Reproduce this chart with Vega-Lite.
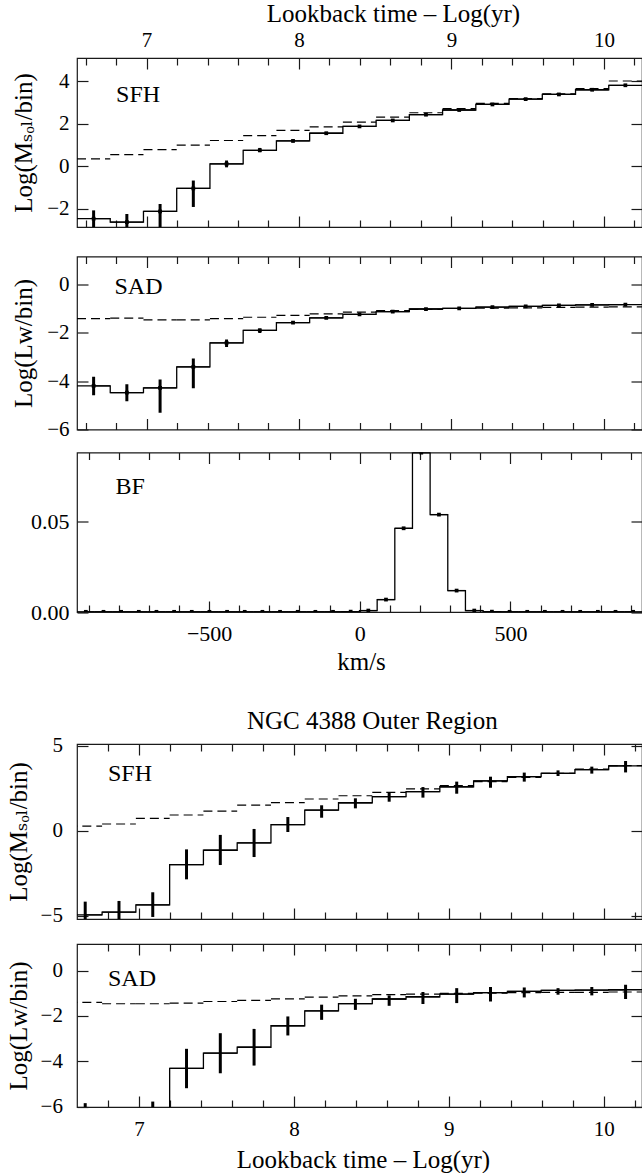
{
"$schema": "https://vega.github.io/schema/vega-lite/v6.json",
"padding": {"top": 0, "left": 5, "right": 0, "bottom": 0},
"config": {
  "font": "Liberation Serif, Times New Roman, DejaVu Serif, serif",
  "view": {"stroke": "#1a1a1a", "strokeWidth": 1.2},
  "axis": {"domain": false, "grid": false, "labelFont": "Liberation Serif, Times New Roman, DejaVu Serif, serif", "labelFontSize": 21, "labelColor": "#000", "titleFont": "Liberation Serif, Times New Roman, DejaVu Serif, serif", "titleFontSize": 25, "titleFontWeight": "normal", "titleColor": "#000", "tickColor": "#1a1a1a", "tickWidth": 1.2, "labelOverlap": false, "labelFlush": false, "labelBound": false, "labelPadding": 19},
  "title": {"font": "Liberation Serif, Times New Roman, DejaVu Serif, serif", "fontSize": 25, "fontWeight": "normal", "color": "#000"},
  "text": {"font": "Liberation Serif, Times New Roman, DejaVu Serif, serif"}
},
"datasets": {
  "sfh1": [
    {"t": 6.653, "lo": 6.544, "hi": 6.762, "y": -2.46, "e1": -2.07, "e2": -3.2, "d": 0.35},
    {"t": 6.871, "lo": 6.762, "hi": 6.98, "y": -2.62, "e1": -2.24, "e2": -3.2, "d": 0.55},
    {"t": 7.089, "lo": 6.98, "hi": 7.198, "y": -2.12, "e1": -1.77, "e2": -3.0, "d": 0.78},
    {"t": 7.307, "lo": 7.198, "hi": 7.416, "y": -1.04, "e1": -0.67, "e2": -1.91, "d": 0.99},
    {"t": 7.525, "lo": 7.416, "hi": 7.634, "y": 0.11, "e1": 0.27, "e2": -0.05, "d": 1.21},
    {"t": 7.743, "lo": 7.634, "hi": 7.852, "y": 0.75, "e1": 0.86, "e2": 0.66, "d": 1.44},
    {"t": 7.961, "lo": 7.852, "hi": 8.07, "y": 1.19, "e1": 1.26, "e2": 1.12, "d": 1.68},
    {"t": 8.179, "lo": 8.07, "hi": 8.288, "y": 1.55, "e1": 1.61, "e2": 1.49, "d": 1.85},
    {"t": 8.397, "lo": 8.288, "hi": 8.506, "y": 1.87, "e1": 1.92, "e2": 1.82, "d": 2.07},
    {"t": 8.615, "lo": 8.506, "hi": 8.724, "y": 2.15, "e1": 2.2, "e2": 2.1, "d": 2.31},
    {"t": 8.833, "lo": 8.724, "hi": 8.942, "y": 2.42, "e1": 2.47, "e2": 2.37, "d": 2.51},
    {"t": 9.051, "lo": 8.942, "hi": 9.16, "y": 2.64, "e1": 2.69, "e2": 2.59, "d": 2.7},
    {"t": 9.269, "lo": 9.16, "hi": 9.378, "y": 2.9, "e1": 2.95, "e2": 2.85, "d": 2.95},
    {"t": 9.487, "lo": 9.378, "hi": 9.596, "y": 3.15, "e1": 3.2, "e2": 3.1, "d": 3.18},
    {"t": 9.705, "lo": 9.596, "hi": 9.814, "y": 3.37, "e1": 3.42, "e2": 3.32, "d": 3.4},
    {"t": 9.923, "lo": 9.814, "hi": 10.032, "y": 3.59, "e1": 3.64, "e2": 3.54, "d": 3.64},
    {"t": 10.141, "lo": 10.032, "hi": 10.25, "y": 3.8, "e1": 3.85, "e2": 3.75, "d": 4.0}
  ],
  "sad1": [
    {"t": 6.653, "lo": 6.544, "hi": 6.762, "y": -4.2, "e1": -3.82, "e2": -4.58, "d": -1.42},
    {"t": 6.871, "lo": 6.762, "hi": 6.98, "y": -4.48, "e1": -4.13, "e2": -4.83, "d": -1.4},
    {"t": 7.089, "lo": 6.98, "hi": 7.198, "y": -4.28, "e1": -3.93, "e2": -5.31, "d": -1.47},
    {"t": 7.307, "lo": 7.198, "hi": 7.416, "y": -3.41, "e1": -3.07, "e2": -4.29, "d": -1.47},
    {"t": 7.525, "lo": 7.416, "hi": 7.634, "y": -2.42, "e1": -2.28, "e2": -2.59, "d": -1.42},
    {"t": 7.743, "lo": 7.634, "hi": 7.852, "y": -1.9, "e1": -1.83, "e2": -2.01, "d": -1.36},
    {"t": 7.961, "lo": 7.852, "hi": 8.07, "y": -1.58, "e1": -1.53, "e2": -1.63, "d": -1.28},
    {"t": 8.179, "lo": 8.07, "hi": 8.288, "y": -1.39, "e1": -1.35, "e2": -1.43, "d": -1.22},
    {"t": 8.397, "lo": 8.288, "hi": 8.506, "y": -1.24, "e1": -1.2, "e2": -1.28, "d": -1.15},
    {"t": 8.615, "lo": 8.506, "hi": 8.724, "y": -1.13, "e1": -1.09, "e2": -1.17, "d": -1.09},
    {"t": 8.833, "lo": 8.724, "hi": 8.942, "y": -1.02, "e1": -0.98, "e2": -1.06, "d": -1.04},
    {"t": 9.051, "lo": 8.942, "hi": 9.16, "y": -0.99, "e1": -0.95, "e2": -1.03, "d": -1.0},
    {"t": 9.269, "lo": 9.16, "hi": 9.378, "y": -0.94, "e1": -0.9, "e2": -0.98, "d": -0.98},
    {"t": 9.487, "lo": 9.378, "hi": 9.596, "y": -0.91, "e1": -0.87, "e2": -0.95, "d": -0.97},
    {"t": 9.705, "lo": 9.596, "hi": 9.814, "y": -0.87, "e1": -0.83, "e2": -0.91, "d": -0.95},
    {"t": 9.923, "lo": 9.814, "hi": 10.032, "y": -0.85, "e1": -0.81, "e2": -0.89, "d": -0.94},
    {"t": 10.141, "lo": 10.032, "hi": 10.25, "y": -0.84, "e1": -0.8, "e2": -0.88, "d": -0.93}
  ],
  "bf": [
    {"v": -909.1, "lo": -938.4, "hi": -879.8, "f": 0.0001},
    {"v": -850.5, "lo": -879.8, "hi": -821.2, "f": 0.0001},
    {"v": -791.9, "lo": -821.2, "hi": -762.6, "f": 0.0001},
    {"v": -733.3, "lo": -762.6, "hi": -704.0, "f": 0.0001},
    {"v": -674.7, "lo": -704.0, "hi": -645.4, "f": 0.0001},
    {"v": -616.1, "lo": -645.4, "hi": -586.8, "f": 0.0001},
    {"v": -557.5, "lo": -586.8, "hi": -528.2, "f": 0.0001},
    {"v": -498.9, "lo": -528.2, "hi": -469.6, "f": 0.0001},
    {"v": -440.3, "lo": -469.6, "hi": -411.0, "f": 0.0001},
    {"v": -381.7, "lo": -411.0, "hi": -352.4, "f": 0.0001},
    {"v": -323.1, "lo": -352.4, "hi": -293.8, "f": 0.0001},
    {"v": -264.5, "lo": -293.8, "hi": -235.2, "f": 0.0001},
    {"v": -205.9, "lo": -235.2, "hi": -176.6, "f": 0.0001},
    {"v": -147.3, "lo": -176.6, "hi": -118.0, "f": 0.0001},
    {"v": -88.7, "lo": -118.0, "hi": -59.4, "f": 0.0001},
    {"v": -30.1, "lo": -59.4, "hi": -0.8, "f": 0.0002},
    {"v": 28.5, "lo": -0.8, "hi": 57.8, "f": 0.0008},
    {"v": 87.1, "lo": 57.8, "hi": 116.4, "f": 0.0069},
    {"v": 145.7, "lo": 116.4, "hi": 175.0, "f": 0.0465},
    {"v": 204.3, "lo": 175.0, "hi": 233.6, "f": 0.0885},
    {"v": 262.9, "lo": 233.6, "hi": 292.2, "f": 0.0541},
    {"v": 321.5, "lo": 292.2, "hi": 350.8, "f": 0.0119},
    {"v": 380.1, "lo": 350.8, "hi": 409.4, "f": 0.0008},
    {"v": 438.7, "lo": 409.4, "hi": 468.0, "f": 0.0002},
    {"v": 497.3, "lo": 468.0, "hi": 526.6, "f": 0.0001},
    {"v": 555.9, "lo": 526.6, "hi": 585.2, "f": 0.0001},
    {"v": 614.5, "lo": 585.2, "hi": 643.8, "f": 0.0001},
    {"v": 673.1, "lo": 643.8, "hi": 702.4, "f": 0.0001},
    {"v": 731.7, "lo": 702.4, "hi": 761.0, "f": 0.0001},
    {"v": 790.3, "lo": 761.0, "hi": 819.6, "f": 0.0001},
    {"v": 848.9, "lo": 819.6, "hi": 878.2, "f": 0.0001},
    {"v": 907.5, "lo": 878.2, "hi": 936.8, "f": 0.0001}
  ],
  "sfh2": [
    {"t": 6.653, "lo": 6.544, "hi": 6.762, "y": -4.95, "e1": -4.17, "e2": -5.7, "d": 0.27},
    {"t": 6.871, "lo": 6.762, "hi": 6.98, "y": -4.79, "e1": -4.13, "e2": -5.6, "d": 0.39},
    {"t": 7.089, "lo": 6.98, "hi": 7.198, "y": -4.36, "e1": -3.62, "e2": -5.07, "d": 0.72},
    {"t": 7.307, "lo": 7.198, "hi": 7.416, "y": -2.0, "e1": -1.1, "e2": -2.86, "d": 0.92},
    {"t": 7.525, "lo": 7.416, "hi": 7.634, "y": -1.15, "e1": -0.25, "e2": -2.02, "d": 1.15},
    {"t": 7.743, "lo": 7.634, "hi": 7.852, "y": -0.72, "e1": 0.1, "e2": -1.55, "d": 1.5},
    {"t": 7.961, "lo": 7.852, "hi": 8.07, "y": 0.35, "e1": 0.8, "e2": -0.08, "d": 1.65},
    {"t": 8.179, "lo": 8.07, "hi": 8.288, "y": 1.21, "e1": 1.49, "e2": 0.76, "d": 1.86},
    {"t": 8.397, "lo": 8.288, "hi": 8.506, "y": 1.64, "e1": 1.9, "e2": 1.31, "d": 2.05},
    {"t": 8.615, "lo": 8.506, "hi": 8.724, "y": 2.0, "e1": 2.25, "e2": 1.7, "d": 2.25},
    {"t": 8.833, "lo": 8.724, "hi": 8.942, "y": 2.29, "e1": 2.56, "e2": 1.94, "d": 2.45},
    {"t": 9.051, "lo": 8.942, "hi": 9.16, "y": 2.58, "e1": 2.88, "e2": 2.17, "d": 2.65},
    {"t": 9.269, "lo": 9.16, "hi": 9.378, "y": 2.92, "e1": 3.17, "e2": 2.52, "d": 2.88},
    {"t": 9.487, "lo": 9.378, "hi": 9.596, "y": 3.17, "e1": 3.41, "e2": 2.88, "d": 3.13},
    {"t": 9.705, "lo": 9.596, "hi": 9.814, "y": 3.37, "e1": 3.54, "e2": 3.21, "d": 3.37},
    {"t": 9.923, "lo": 9.814, "hi": 10.032, "y": 3.58, "e1": 3.76, "e2": 3.35, "d": 3.62},
    {"t": 10.141, "lo": 10.032, "hi": 10.25, "y": 3.8, "e1": 4.09, "e2": 3.42, "d": 3.82}
  ],
  "sad2": [
    {"t": 6.653, "lo": 6.544, "hi": 6.762, "y": -6.5, "e1": -5.85, "e2": -7.2, "d": -1.4},
    {"t": 6.871, "lo": 6.762, "hi": 6.98, "y": -6.6, "e1": -6.05, "e2": -7.2, "d": -1.46},
    {"t": 7.089, "lo": 6.98, "hi": 7.198, "y": -6.4, "e1": -5.78, "e2": -7.1, "d": -1.46},
    {"t": 7.307, "lo": 7.198, "hi": 7.416, "y": -4.31, "e1": -3.45, "e2": -5.19, "d": -1.43},
    {"t": 7.525, "lo": 7.416, "hi": 7.634, "y": -3.64, "e1": -2.76, "e2": -4.53, "d": -1.36},
    {"t": 7.743, "lo": 7.634, "hi": 7.852, "y": -3.38, "e1": -2.57, "e2": -4.19, "d": -1.31},
    {"t": 7.961, "lo": 7.852, "hi": 8.07, "y": -2.43, "e1": -2.02, "e2": -2.86, "d": -1.24},
    {"t": 8.179, "lo": 8.07, "hi": 8.288, "y": -1.77, "e1": -1.5, "e2": -2.17, "d": -1.17},
    {"t": 8.397, "lo": 8.288, "hi": 8.506, "y": -1.45, "e1": -1.24, "e2": -1.73, "d": -1.11},
    {"t": 8.615, "lo": 8.506, "hi": 8.724, "y": -1.25, "e1": -1.09, "e2": -1.55, "d": -1.06},
    {"t": 8.833, "lo": 8.724, "hi": 8.942, "y": -1.15, "e1": -0.94, "e2": -1.47, "d": -1.03},
    {"t": 9.051, "lo": 8.942, "hi": 9.16, "y": -1.03, "e1": -0.77, "e2": -1.43, "d": -1.0},
    {"t": 9.269, "lo": 9.16, "hi": 9.378, "y": -0.97, "e1": -0.72, "e2": -1.36, "d": -0.99},
    {"t": 9.487, "lo": 9.378, "hi": 9.596, "y": -0.91, "e1": -0.74, "e2": -1.18, "d": -0.97},
    {"t": 9.705, "lo": 9.596, "hi": 9.814, "y": -0.87, "e1": -0.77, "e2": -1.06, "d": -0.96},
    {"t": 9.923, "lo": 9.814, "hi": 10.032, "y": -0.86, "e1": -0.72, "e2": -1.09, "d": -0.96},
    {"t": 10.141, "lo": 10.032, "hi": 10.25, "y": -0.84, "e1": -0.62, "e2": -1.25, "d": -0.94}
  ]
},
"spacing": 32,
"vconcat": [
 {
  "spacing": 9.5,
  "vconcat": [
   {
    "spacing": 25.5,
    "vconcat": [
     {
      "width": 565, "height": 169,
      "data": {"name": "sfh1"},
      "resolve": {"axis": {"x": "independent", "y": "independent"}},
      "layer": [
       {"mark": {"type": "rule", "color": "#000", "strokeWidth": 1.3, "clip": true},
        "encoding": {
         "x": {"field": "lo", "type": "quantitative", "scale": {"domain": [6.544, 10.25], "nice": false, "zero": false},
               "axis": {"orient": "top", "title": "Lookback time – Log(yr)", "titlePadding": -1, "titleX": 316, "values": [6.6,6.8,7,7.2,7.4,7.6,7.8,8,8.2,8.4,8.6,8.8,9,9.2,9.4,9.6,9.8,10,10.2], "tickSize": {"condition": {"test": "datum.value % 1 === 0", "value": -11}, "value": -7}, "labelExpr": "datum.value % 1 === 0 ? format(datum.value, 'd') : ''"}},
         "x2": {"field": "hi"},
         "y": {"field": "y", "type": "quantitative", "scale": {"domain": [-2.85, 5.08], "nice": false, "zero": false},
               "axis": {"orient": "left", "title": "Log(Mₛₒₗ/bin)", "titlePadding": 8, "minExtent": 33, "maxExtent": 33, "values": [-2, 0, 2, 4], "tickSize": -11}}
        }},
       {"mark": {"type": "line", "interpolate": "step", "color": "#000", "strokeWidth": 1.3, "clip": true},
        "encoding": {
         "x": {"field": "t", "type": "quantitative", "scale": {"domain": [6.544, 10.25], "nice": false, "zero": false},
               "axis": {"orient": "bottom", "title": null, "labels": false, "values": [6.6,6.8,7,7.2,7.4,7.6,7.8,8,8.2,8.4,8.6,8.8,9,9.2,9.4,9.6,9.8,10,10.2], "tickSize": {"condition": {"test": "datum.value % 1 === 0", "value": -11}, "value": -7}}},
         "y": {"field": "y", "type": "quantitative", "scale": {"domain": [-2.85, 5.08], "nice": false, "zero": false},
               "axis": {"orient": "right", "title": null, "labels": false, "values": [-2, 0, 2, 4], "tickSize": -11}}
        }},
       {"mark": {"type": "rule", "color": "#000", "strokeWidth": 1.2, "strokeDash": [9, 5], "clip": true},
        "encoding": {
         "x": {"field": "lo", "type": "quantitative", "scale": {"domain": [6.544, 10.25], "nice": false, "zero": false}, "axis": null},
         "x2": {"field": "hi"},
         "y": {"field": "d", "type": "quantitative", "scale": {"domain": [-2.85, 5.08], "nice": false, "zero": false}, "axis": null}
        }},
       {"mark": {"type": "rule", "color": "#000", "strokeWidth": 3, "clip": true},
        "encoding": {
         "x": {"field": "t", "type": "quantitative", "scale": {"domain": [6.544, 10.25], "nice": false, "zero": false}, "axis": null},
         "y": {"field": "e1", "type": "quantitative", "scale": {"domain": [-2.85, 5.08], "nice": false, "zero": false}, "axis": null},
         "y2": {"field": "e2"}
        }},
       {"mark": {"type": "point", "shape": "square", "filled": true, "color": "#000", "opacity": 1, "size": 14, "clip": true},
        "encoding": {
         "x": {"field": "t", "type": "quantitative", "scale": {"domain": [6.544, 10.25], "nice": false, "zero": false}, "axis": null},
         "y": {"field": "y", "type": "quantitative", "scale": {"domain": [-2.85, 5.08], "nice": false, "zero": false}, "axis": null}
        }},
       {"data": {"values": [{"label": "SFH"}]},
        "mark": {"type": "text", "align": "left", "baseline": "alphabetic", "fontSize": 24, "color": "#000"},
        "encoding": {
         "text": {"field": "label"},
         "x": {"datum": 6.8, "type": "quantitative", "scale": {"domain": [6.544, 10.25], "nice": false, "zero": false}, "axis": null},
         "y": {"datum": 3.02, "type": "quantitative", "scale": {"domain": [-2.85, 5.08], "nice": false, "zero": false}, "axis": null}
        }}
      ]
     },
     {
      "width": 565, "height": 173,
      "data": {"name": "sad1"},
      "resolve": {"axis": {"x": "independent", "y": "independent"}},
      "layer": [
       {"mark": {"type": "rule", "color": "#000", "strokeWidth": 1.3, "clip": true},
        "encoding": {
         "x": {"field": "lo", "type": "quantitative", "scale": {"domain": [6.544, 10.25], "nice": false, "zero": false},
               "axis": {"orient": "top", "title": null, "labels": false, "values": [6.6,6.8,7,7.2,7.4,7.6,7.8,8,8.2,8.4,8.6,8.8,9,9.2,9.4,9.6,9.8,10,10.2], "tickSize": {"condition": {"test": "datum.value % 1 === 0", "value": -11}, "value": -7}}},
         "x2": {"field": "hi"},
         "y": {"field": "y", "type": "quantitative", "scale": {"domain": [-6, 1.15], "nice": false, "zero": false},
               "axis": {"orient": "left", "title": "Log(Lw/bin)", "titlePadding": 8, "minExtent": 33, "maxExtent": 33, "values": [-6, -4, -2, 0], "tickSize": -11}}
        }},
       {"mark": {"type": "line", "interpolate": "step", "color": "#000", "strokeWidth": 1.3, "clip": true},
        "encoding": {
         "x": {"field": "t", "type": "quantitative", "scale": {"domain": [6.544, 10.25], "nice": false, "zero": false},
               "axis": {"orient": "bottom", "title": null, "labels": false, "values": [6.6,6.8,7,7.2,7.4,7.6,7.8,8,8.2,8.4,8.6,8.8,9,9.2,9.4,9.6,9.8,10,10.2], "tickSize": {"condition": {"test": "datum.value % 1 === 0", "value": -11}, "value": -7}}},
         "y": {"field": "y", "type": "quantitative", "scale": {"domain": [-6, 1.15], "nice": false, "zero": false},
               "axis": {"orient": "right", "title": null, "labels": false, "values": [-6, -4, -2, 0], "tickSize": -11}}
        }},
       {"mark": {"type": "rule", "color": "#000", "strokeWidth": 1.2, "strokeDash": [9, 5], "clip": true},
        "encoding": {
         "x": {"field": "lo", "type": "quantitative", "scale": {"domain": [6.544, 10.25], "nice": false, "zero": false}, "axis": null},
         "x2": {"field": "hi"},
         "y": {"field": "d", "type": "quantitative", "scale": {"domain": [-6, 1.15], "nice": false, "zero": false}, "axis": null}
        }},
       {"mark": {"type": "rule", "color": "#000", "strokeWidth": 3, "clip": true},
        "encoding": {
         "x": {"field": "t", "type": "quantitative", "scale": {"domain": [6.544, 10.25], "nice": false, "zero": false}, "axis": null},
         "y": {"field": "e1", "type": "quantitative", "scale": {"domain": [-6, 1.15], "nice": false, "zero": false}, "axis": null},
         "y2": {"field": "e2"}
        }},
       {"mark": {"type": "point", "shape": "square", "filled": true, "color": "#000", "opacity": 1, "size": 14, "clip": true},
        "encoding": {
         "x": {"field": "t", "type": "quantitative", "scale": {"domain": [6.544, 10.25], "nice": false, "zero": false}, "axis": null},
         "y": {"field": "y", "type": "quantitative", "scale": {"domain": [-6, 1.15], "nice": false, "zero": false}, "axis": null}
        }},
       {"data": {"values": [{"label": "SAD"}]},
        "mark": {"type": "text", "align": "left", "baseline": "alphabetic", "fontSize": 24, "color": "#000"},
        "encoding": {
         "text": {"field": "label"},
         "x": {"datum": 6.79, "type": "quantitative", "scale": {"domain": [6.544, 10.25], "nice": false, "zero": false}, "axis": null},
         "y": {"datum": -0.39, "type": "quantitative", "scale": {"domain": [-6, 1.15], "nice": false, "zero": false}, "axis": null}
        }}
      ]
     }
    ]
   },
   {
    "width": 565, "height": 159.5,
    "data": {"name": "bf"},
    "resolve": {"axis": {"x": "independent", "y": "independent"}},
    "layer": [
     {"mark": {"type": "rule", "color": "#000", "strokeWidth": 1.3, "clip": true},
      "encoding": {
       "x": {"field": "lo", "type": "quantitative", "scale": {"domain": [-938.4, 936.8], "nice": false, "zero": false},
             "axis": {"orient": "bottom", "title": "km/s", "titlePadding": 1, "titleX": 284, "labelPadding": 22.6, "labelFontSize": 22, "values": [-900,-800,-700,-600,-500,-400,-300,-200,-100,0,100,200,300,400,500,600,700,800,900], "tickSize": {"condition": {"test": "datum.value % 500 === 0", "value": -11}, "value": -7}, "labelExpr": "datum.value % 500 === 0 ? datum.label : ''"}},
       "x2": {"field": "hi"},
       "y": {"field": "f", "type": "quantitative", "scale": {"domain": [0, 0.0886], "nice": false, "zero": false},
             "axis": {"orient": "left", "title": null, "format": ".2f", "minExtent": 71, "labelFontSize": 22, "values": [0, 0.05], "tickSize": -11}}
      }},
     {"mark": {"type": "line", "interpolate": "step", "color": "#000", "strokeWidth": 1.3, "clip": true},
      "encoding": {
       "x": {"field": "v", "type": "quantitative", "scale": {"domain": [-938.4, 936.8], "nice": false, "zero": false},
             "axis": {"orient": "top", "title": null, "labels": false, "values": [-900,-800,-700,-600,-500,-400,-300,-200,-100,0,100,200,300,400,500,600,700,800,900], "tickSize": {"condition": {"test": "datum.value % 500 === 0", "value": -11}, "value": -7}}},
       "y": {"field": "f", "type": "quantitative", "scale": {"domain": [0, 0.0886], "nice": false, "zero": false},
             "axis": {"orient": "right", "title": null, "labels": false, "values": [0, 0.05], "tickSize": -11}}
      }},
     {"mark": {"type": "point", "shape": "square", "filled": true, "color": "#000", "opacity": 1, "size": 14, "clip": true},
      "encoding": {
       "x": {"field": "v", "type": "quantitative", "scale": {"domain": [-938.4, 936.8], "nice": false, "zero": false}, "axis": null},
       "y": {"field": "f", "type": "quantitative", "scale": {"domain": [0, 0.0886], "nice": false, "zero": false}, "axis": null}
      }},
     {"data": {"values": [{"label": "BF"}]},
      "mark": {"type": "text", "align": "left", "baseline": "alphabetic", "fontSize": 24, "color": "#000"},
      "encoding": {
       "text": {"field": "label"},
       "x": {"datum": -811, "type": "quantitative", "scale": {"domain": [-938.4, 936.8], "nice": false, "zero": false}, "axis": null},
       "y": {"datum": 0.0654, "type": "quantitative", "scale": {"domain": [0, 0.0886], "nice": false, "zero": false}, "axis": null}
      }}
    ]
   }
  ]
 },
 {
  "spacing": 15,
  "title": {"text": "NGC 4388 Outer Region", "anchor": "middle", "offset": 0, "dx": 48},
  "vconcat": [
   {
    "width": 565, "height": 175,
    "data": {"name": "sfh2"},
    "resolve": {"axis": {"x": "independent", "y": "independent"}},
    "layer": [
     {"mark": {"type": "rule", "color": "#000", "strokeWidth": 1.3, "clip": true},
      "encoding": {
       "x": {"field": "lo", "type": "quantitative", "scale": {"domain": [6.6, 10.247], "nice": false, "zero": false},
             "axis": {"orient": "top", "title": null, "labels": false, "values": [6.8,7,7.2,7.4,7.6,7.8,8,8.2,8.4,8.6,8.8,9,9.2,9.4,9.6,9.8,10,10.2], "tickSize": {"condition": {"test": "datum.value % 1 === 0", "value": -11}, "value": -7}}},
       "x2": {"field": "hi"},
       "y": {"field": "y", "type": "quantitative", "scale": {"domain": [-5.19, 5.09], "nice": false, "zero": false},
             "axis": {"orient": "left", "title": "Log(Mₛₒₗ/bin)", "titlePadding": 7, "minExtent": 39, "maxExtent": 39, "labelPadding": 25.6, "values": [-5, 0, 5], "tickSize": -11}}
      }},
     {"mark": {"type": "line", "interpolate": "step", "color": "#000", "strokeWidth": 1.3, "clip": true},
      "encoding": {
       "x": {"field": "t", "type": "quantitative", "scale": {"domain": [6.6, 10.247], "nice": false, "zero": false},
             "axis": {"orient": "bottom", "title": null, "labels": false, "values": [6.8,7,7.2,7.4,7.6,7.8,8,8.2,8.4,8.6,8.8,9,9.2,9.4,9.6,9.8,10,10.2], "tickSize": {"condition": {"test": "datum.value % 1 === 0", "value": -11}, "value": -7}}},
       "y": {"field": "y", "type": "quantitative", "scale": {"domain": [-5.19, 5.09], "nice": false, "zero": false},
             "axis": {"orient": "right", "title": null, "labels": false, "values": [-5, 0, 5], "tickSize": -11}}
      }},
     {"mark": {"type": "rule", "color": "#000", "strokeWidth": 1.2, "strokeDash": [9, 5], "clip": true},
      "encoding": {
       "x": {"field": "lo", "type": "quantitative", "scale": {"domain": [6.6, 10.247], "nice": false, "zero": false}, "axis": null},
       "x2": {"field": "hi"},
       "y": {"field": "d", "type": "quantitative", "scale": {"domain": [-5.19, 5.09], "nice": false, "zero": false}, "axis": null}
      }},
     {"mark": {"type": "rule", "color": "#000", "strokeWidth": 3, "clip": true},
      "encoding": {
       "x": {"field": "t", "type": "quantitative", "scale": {"domain": [6.6, 10.247], "nice": false, "zero": false}, "axis": null},
       "y": {"field": "e1", "type": "quantitative", "scale": {"domain": [-5.19, 5.09], "nice": false, "zero": false}, "axis": null},
       "y2": {"field": "e2"}
      }},
     {"data": {"values": [{"label": "SFH"}]},
      "mark": {"type": "text", "align": "left", "baseline": "alphabetic", "fontSize": 24, "color": "#000"},
      "encoding": {
       "text": {"field": "label"},
       "x": {"datum": 6.8, "type": "quantitative", "scale": {"domain": [6.6, 10.247], "nice": false, "zero": false}, "axis": null},
       "y": {"datum": 2.91, "type": "quantitative", "scale": {"domain": [-5.19, 5.09], "nice": false, "zero": false}, "axis": null}
      }}
    ]
   },
   {
    "width": 565, "height": 163,
    "data": {"name": "sad2"},
    "resolve": {"axis": {"x": "independent", "y": "independent"}},
    "layer": [
     {"mark": {"type": "rule", "color": "#000", "strokeWidth": 1.3, "clip": true},
      "encoding": {
       "x": {"field": "lo", "type": "quantitative", "scale": {"domain": [6.6, 10.247], "nice": false, "zero": false},
             "axis": {"orient": "bottom", "title": "Lookback time – Log(yr)", "titlePadding": 4, "titleX": 286, "labelPadding": 22, "values": [6.8,7,7.2,7.4,7.6,7.8,8,8.2,8.4,8.6,8.8,9,9.2,9.4,9.6,9.8,10,10.2], "tickSize": {"condition": {"test": "datum.value % 1 === 0", "value": -11}, "value": -7}, "labelExpr": "datum.value % 1 === 0 ? format(datum.value, 'd') : ''"}},
       "x2": {"field": "hi"},
       "y": {"field": "y", "type": "quantitative", "scale": {"domain": [-6.02, 1.18], "nice": false, "zero": false},
             "axis": {"orient": "left", "title": "Log(Lw/bin)", "titlePadding": 7, "minExtent": 39, "maxExtent": 39, "labelPadding": 25.6, "values": [-6, -4, -2, 0], "tickSize": -11}}
      }},
     {"mark": {"type": "line", "interpolate": "step", "color": "#000", "strokeWidth": 1.3, "clip": true},
      "encoding": {
       "x": {"field": "t", "type": "quantitative", "scale": {"domain": [6.6, 10.247], "nice": false, "zero": false},
             "axis": {"orient": "top", "title": null, "labels": false, "values": [6.8,7,7.2,7.4,7.6,7.8,8,8.2,8.4,8.6,8.8,9,9.2,9.4,9.6,9.8,10,10.2], "tickSize": {"condition": {"test": "datum.value % 1 === 0", "value": -11}, "value": -7}}},
       "y": {"field": "y", "type": "quantitative", "scale": {"domain": [-6.02, 1.18], "nice": false, "zero": false},
             "axis": {"orient": "right", "title": null, "labels": false, "values": [-6, -4, -2, 0], "tickSize": -11}}
      }},
     {"mark": {"type": "rule", "color": "#000", "strokeWidth": 1.2, "strokeDash": [9, 5], "clip": true},
      "encoding": {
       "x": {"field": "lo", "type": "quantitative", "scale": {"domain": [6.6, 10.247], "nice": false, "zero": false}, "axis": null},
       "x2": {"field": "hi"},
       "y": {"field": "d", "type": "quantitative", "scale": {"domain": [-6.02, 1.18], "nice": false, "zero": false}, "axis": null}
      }},
     {"mark": {"type": "rule", "color": "#000", "strokeWidth": 3, "clip": true},
      "encoding": {
       "x": {"field": "t", "type": "quantitative", "scale": {"domain": [6.6, 10.247], "nice": false, "zero": false}, "axis": null},
       "y": {"field": "e1", "type": "quantitative", "scale": {"domain": [-6.02, 1.18], "nice": false, "zero": false}, "axis": null},
       "y2": {"field": "e2"}
      }},
     {"data": {"values": [{"label": "SAD"}]},
      "mark": {"type": "text", "align": "left", "baseline": "alphabetic", "fontSize": 24, "color": "#000"},
      "encoding": {
       "text": {"field": "label"},
       "x": {"datum": 6.8, "type": "quantitative", "scale": {"domain": [6.6, 10.247], "nice": false, "zero": false}, "axis": null},
       "y": {"datum": -0.66, "type": "quantitative", "scale": {"domain": [-6.02, 1.18], "nice": false, "zero": false}, "axis": null}
      }}
    ]
   }
  ]
 }
]
}
